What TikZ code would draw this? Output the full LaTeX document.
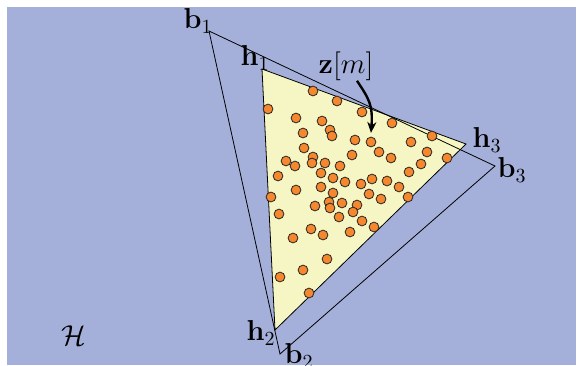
\documentclass[tikz,border=0pt]{standalone}
\usepackage{amsmath,amssymb}
\usepackage{bm}
\usepackage{tikz}
\usetikzlibrary{arrows.meta,positioning,calc}
\usepackage{xcolor}
\definecolor{hullblue}{RGB}{164,176,217}
\definecolor{simplexyellow}{RGB}{246,246,196}
\definecolor{sampleorange}{RGB}{245,136,46}

\begin{document}
\begin{tikzpicture}[x=0.5pt, y=-0.5pt,
    edge/.style={draw=black, line width=0.4pt},
    sample/.style={draw=black!85, fill=sampleorange, line width=0.4pt},
    lbl/.style={font=\Large, inner sep=0pt},
    arrow/.style={-{Stealth[length=5.5pt,width=4.5pt]}, line width=1.2pt}
]
\useasboundingbox (0,0) rectangle (578,365);
\fill[hullblue] (7,7) rectangle (576,365);
% vertices
\coordinate (b1) at (209,31);
\coordinate (b2) at (280,354);
\coordinate (b3) at (495,166);
\coordinate (h1) at (262,69);
\coordinate (h2) at (275,330);
\coordinate (h3) at (466,144);
\coordinate (zpt) at (371,133);
% inner simplex and outer triangle
\filldraw[edge, fill=simplexyellow] (h1) -- (h2) -- (h3) -- cycle;
\draw[edge] (b1) -- (b2) -- (b3) -- cycle;
% samples z[m]
\foreach \x/\y in {313/91, 337/101, 268/109, 362/112, 296/118, 322/121, 392/123,
    330/130, 332/136, 303/133, 432/136, 355/140, 371/142, 411/142, 304/148,
    379/152, 427/152, 391/158, 447/158, 286/161, 313/157, 312/163, 295/166,
    325/163, 352/155, 340/166, 421/164, 409/172, 321/173, 278/176, 333/178,
    372/179, 345/182, 387/181, 361/184, 399/187, 296/190, 321/187, 333/193,
    369/194, 408/197, 271/197, 381/199, 315/206, 329/202, 330/208, 342/203,
    357/205, 353/212, 279/214, 339/217, 362/221, 374/227, 311/229, 323/235,
    350/232, 293/238, 327/259, 303/270, 280/277, 309/293}
    \path[sample] (\x,\y) circle (4.9);
% labels
\node[lbl] (lb1) at (198,21) {$\mathbf{b}_1$};
\node[lbl] (lb2) at (299,356) {$\mathbf{b}_2$};
\node[lbl] (lb3) at (512,170) {$\mathbf{b}_3$};
\node[lbl] (lh1) at (255,58) {$\mathbf{h}_1$};
\node[lbl] (lh2) at (261,333) {$\mathbf{h}_2$};
\node[lbl] (lh3) at (487,140) {$\mathbf{h}_3$};
\node[lbl] (zm) at (346,66) {$\mathbf{z}[m]$};
\node[lbl] (hset) at (74,336) {$\mathcal{H}$};
\draw[arrow] ([xshift=5.5pt]zm.south) .. controls +(12,18) and +(2,-28) .. (zpt);
\end{tikzpicture}
\end{document}
